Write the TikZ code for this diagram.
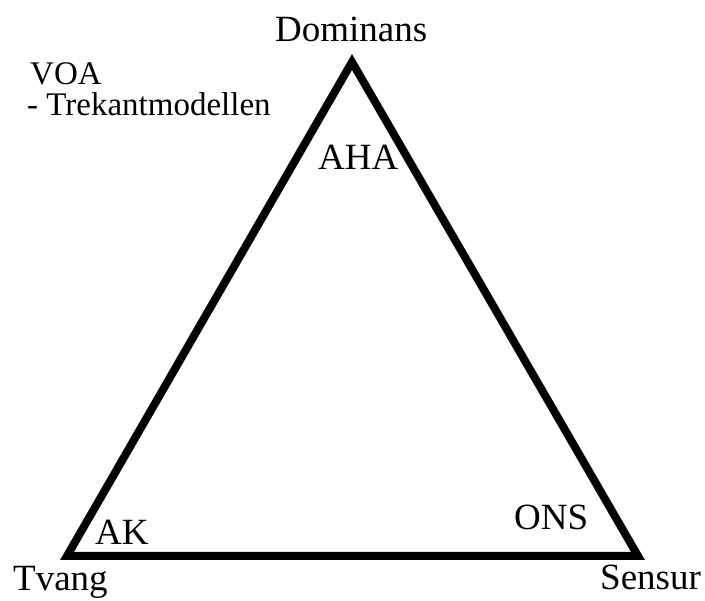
\documentclass[tikz,border=0pt]{standalone}
\usepackage{fontspec}
\setmainfont{Liberation Serif}
\begin{document}
\begin{tikzpicture}[x=1pt,y=-1pt,
  lbl/.style={inner sep=0pt, anchor=base west, font=\fontsize{37}{40}\selectfont},
  title/.style={inner sep=0pt, anchor=base west, font=\fontsize{33}{36}\selectfont},
  tri/.style={line width=8pt, line join=miter, draw=black}]
\useasboundingbox (0,0) rectangle (705,601);
\coordinate (top) at (352,62);
\coordinate (bl) at (67,556);
\coordinate (br) at (638,556);
\draw[tri] (top) -- (bl) -- (br) -- cycle;
\node[lbl] (dom) at (275,42) {Dominans};
\node[title] (voa) at (30,85) {VOA};
\node[title] (trek) at (27,116) {- Trekantmodellen};
\node[lbl] (aha) at (318,170) {AHA};
\node[lbl] (ak) at (95,545) {AK};
\node[lbl] (ons) at (514,530) {ONS};
\node[lbl] (tvang) at (13,591) {Tvang};
\node[lbl] (sensur) at (600,590) {Sensur};
\end{tikzpicture}
\end{document}
